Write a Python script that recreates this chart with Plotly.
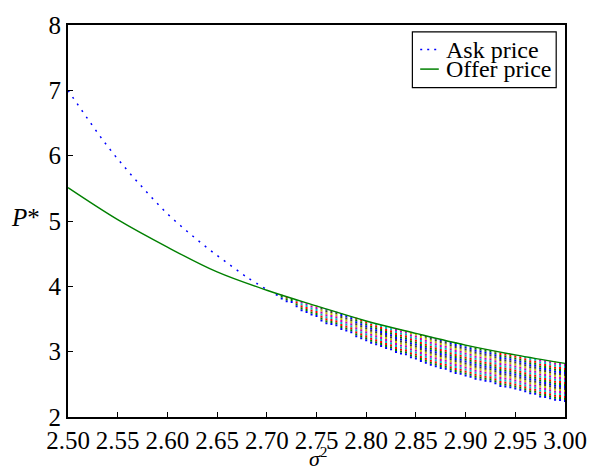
import plotly.graph_objects as go

# ---- data ----
ask_x = [2.50, 2.52, 2.54, 2.56, 2.58, 2.60, 2.62, 2.64, 2.66, 2.68, 2.70]
ask_y = [7.00, 6.56, 6.14, 5.77, 5.43, 5.11, 4.84, 4.59, 4.36, 4.14, 3.95]

offer_x = [2.50, 2.55, 2.60, 2.65, 2.70, 2.75, 2.80, 2.85, 2.90, 2.95, 3.00]
offer_y = [5.51, 5.02, 4.60, 4.22, 3.94, 3.70, 3.47, 3.28, 3.10, 2.95, 2.82]

# multi-valued ask region: one column per sigma^2 value (top / bottom of the band)
col_x = [2.710, 2.715, 2.720, 2.725, 2.730, 2.735, 2.740, 2.745, 2.750, 2.755,
         2.760, 2.765, 2.770, 2.775, 2.780, 2.785, 2.790, 2.795, 2.800, 2.805,
         2.810, 2.815, 2.820, 2.825, 2.830, 2.835, 2.840, 2.845, 2.850, 2.855,
         2.860, 2.865, 2.870, 2.875, 2.880, 2.885, 2.890, 2.895, 2.900, 2.905,
         2.910, 2.915, 2.920, 2.925, 2.930, 2.935, 2.940, 2.945, 2.950, 2.955,
         2.960, 2.965, 2.970, 2.975, 2.980, 2.985, 2.990, 2.995, 3.000]
col_top = [3.89, 3.87, 3.84, 3.82, 3.79, 3.77, 3.74, 3.72, 3.70, 3.68,
           3.65, 3.63, 3.61, 3.59, 3.56, 3.54, 3.52, 3.49, 3.47, 3.45,
           3.43, 3.41, 3.39, 3.37, 3.36, 3.34, 3.32, 3.30, 3.28, 3.26,
           3.24, 3.23, 3.21, 3.19, 3.17, 3.15, 3.14, 3.12, 3.10, 3.08,
           3.07, 3.05, 3.04, 3.02, 3.01, 2.99, 2.98, 2.96, 2.95, 2.94,
           2.92, 2.91, 2.90, 2.88, 2.87, 2.86, 2.85, 2.83, 2.82]
col_bottom = [3.855, 3.80, 3.755, 3.745, 3.68, 3.62, 3.59, 3.555, 3.53, 3.46,
              3.42, 3.41, 3.39, 3.33, 3.31, 3.28, 3.22, 3.19, 3.16, 3.12,
              3.10, 3.07, 3.04, 3.02, 2.98, 2.955, 2.945, 2.90, 2.88, 2.84,
              2.815, 2.785, 2.76, 2.735, 2.725, 2.685, 2.66, 2.645, 2.62, 2.60,
              2.57, 2.56, 2.54, 2.53, 2.50, 2.46, 2.45, 2.44, 2.42, 2.40,
              2.38, 2.35, 2.34, 2.30, 2.29, 2.27, 2.25, 2.245, 2.23]

cycle_colors = ["#0000ff", "#008000", "#ff0000", "#00bfbf", "#bf00bf", "#bfbf00", "#404040"]

x_ticks = [2.50, 2.55, 2.60, 2.65, 2.70, 2.75, 2.80, 2.85, 2.90, 2.95, 3.00]
y_ticks = [2, 3, 4, 5, 6, 7, 8]

series_names = ["Ask price", "Offer price"]
series_colors = ["#0000ff", "#008000"]
series_dash = ["2px,5px", "solid"]

FONT = "Liberation Serif"
W, H = 599, 471
ML, MR, MT, MB = 68, 23, 17, 54
PW, PH = W - ML - MR, H - MT - MB


def px(xpix):
    return (xpix - ML) / PW


def py(ypix):
    return 1 - (ypix - MT) / PH


fig = go.Figure()

# columns drawn as multicoloured dotted vertical segments
step = 2
period = step * len(cycle_colors)
for i, c in enumerate(cycle_colors):
    xs, ys = [], []
    for cx, lo, hi in zip(col_x, col_bottom, col_top):
        xs += [cx, cx, None]
        ys += [lo, hi, None]
    dash = f"0px,{step * i}px,2px,{period - step * i - 2}px"
    fig.add_trace(go.Scatter(x=xs, y=ys, mode="lines", showlegend=False,
                             line=dict(color=c, width=2, dash=dash),
                             hoverinfo="skip"))

fig.add_trace(go.Scatter(x=ask_x, y=ask_y, mode="lines", name=series_names[0],
                         showlegend=False,
                         line=dict(color=series_colors[0], width=1.5,
                                   dash="2px,6px", shape="spline")))
fig.add_trace(go.Scatter(x=offer_x, y=offer_y, mode="lines", name=series_names[1],
                         showlegend=False,
                         line=dict(color=series_colors[1], width=1.4, shape="spline")))

axis_common = dict(showgrid=False, zeroline=False, showline=True, linecolor="black",
                   linewidth=2, mirror=True, ticks="inside", ticklen=5, tickwidth=1,
                   tickcolor="black", tickfont=dict(family=FONT, size=25, color="black"))

fig.update_xaxes(range=[2.5, 3.0], tickvals=x_ticks,
                 ticktext=[f"{v:.2f}" for v in x_ticks], **axis_common)
fig.update_yaxes(range=[2, 8], tickvals=y_ticks,
                 ticktext=[str(v) for v in y_ticks], **axis_common)

# hand-drawn legend box (matplotlib style)
shapes = [dict(type="rect", xref="paper", yref="paper",
               x0=px(420), x1=px(567), y0=py(81), y1=py(24),
               line=dict(color="black", width=1.2), fillcolor="white", layer="above")]
annotations = []
row_y = [42, 62]
for name, col, dsh, ry in zip(series_names, series_colors, series_dash, row_y):
    shapes.append(dict(type="line", xref="paper", yref="paper",
                       x0=px(428), x1=px(447), y0=py(ry), y1=py(ry),
                       line=dict(color=col, width=1.5, dash=dsh), layer="above"))
    annotations.append(dict(text=name, xref="paper", yref="paper", x=px(452), y=py(ry),
                            xanchor="left", yanchor="middle", showarrow=False,
                            font=dict(family=FONT, size=24, color="black")))

annotations += [
    dict(text="<i>P</i>*", xref="paper", yref="paper", x=-0.085, y=0.51,
         showarrow=False, font=dict(family=FONT, size=25), xanchor="center",
         yanchor="middle"),
    dict(text="<i>σ</i><sup>2</sup>", xref="paper", yref="paper", x=0.505,
         y=-0.102, showarrow=False, font=dict(family=FONT, size=22),
         xanchor="center", yanchor="middle"),
]

fig.update_layout(
    width=W, height=H,
    margin=dict(l=ML, r=MR, t=MT, b=MB),
    plot_bgcolor="white", paper_bgcolor="white",
    font=dict(family=FONT, size=23, color="black"),
    showlegend=False,
    shapes=shapes,
    annotations=annotations,
)

fig.write_html("out.html")
